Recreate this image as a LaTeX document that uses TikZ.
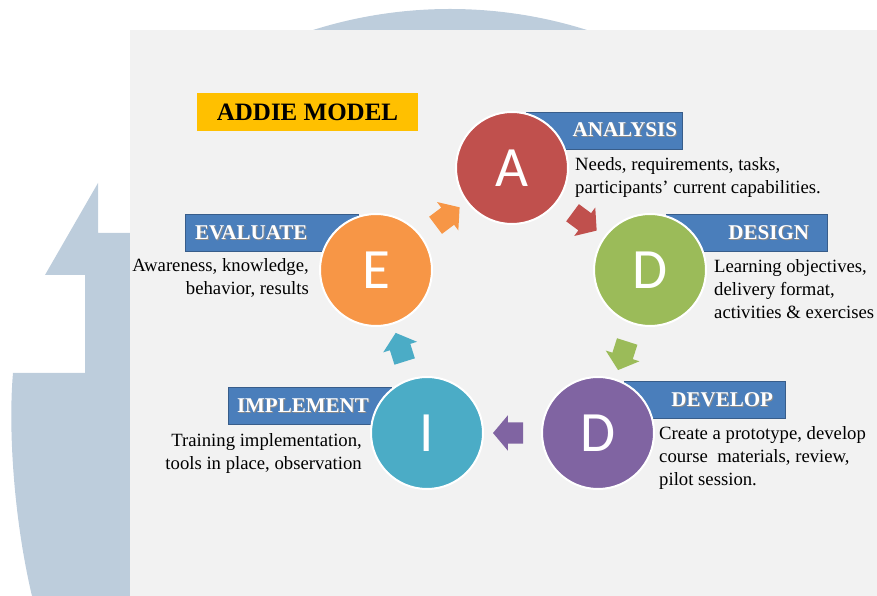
\documentclass[tikz,border=0pt]{standalone}
\usepackage{fontspec}
\setmainfont{Liberation Serif}
\newfontfamily\letterfont{Carlito}
\usepackage{xcolor}
\usetikzlibrary{shapes.arrows}

\definecolor{cred}{HTML}{C0504D}
\definecolor{cgreen}{HTML}{9BBB59}
\definecolor{cpurple}{HTML}{8064A2}
\definecolor{caqua}{HTML}{4BACC6}
\definecolor{corange}{HTML}{F79646}
\definecolor{boxblue}{HTML}{4A7EBB}
\definecolor{boxline}{HTML}{385D8A}
\definecolor{panel}{HTML}{F2F2F2}
\definecolor{seal}{HTML}{BDCDDC}
\definecolor{gold}{HTML}{FFC000}

% white heading text with a soft drop shadow
\newcommand\shadowed[1]{\rlap{\kern1pt\raisebox{-1pt}{\color{black!45}#1}}#1}

\begin{document}
\begin{tikzpicture}[x=1pt, y=1pt,
  phase/.style={circle, minimum size=112pt, draw=white, line width=2pt, text=white,
    font=\letterfont\fontsize{57}{60}\selectfont},
  tag/.style={draw=boxline, line width=0.8pt, fill=boxblue, minimum height=37pt, inner ysep=0pt,
    text=white, font=\fontsize{21}{25}\selectfont\bfseries},
  note/.style={inner sep=0pt, font=\fontsize{18.7}{23}\selectfont},
  flow/.style={single arrow, draw=none, minimum height=30pt, inner xsep=0pt, inner ysep=10.5pt,
    single arrow head extend=7pt, single arrow tip angle=100, sloped, allow upside down}]
  \useasboundingbox (0,0) rectangle (877,596);

  % Watermark behind the slide
  \begin{scope}
    \clip (130,566) rectangle (877,596);
    \fill[seal] (450,133) circle (454);
  \end{scope}
  \fill[seal] (98,413) -- (98,363) -- (140,363) -- (140,0) -- (32,0)
    .. controls (14,76) and (8,166) .. (13,223) -- (85,223) -- (85,321) -- (45,321) -- cycle;

  % Slide
  \fill[panel] (130,0) rectangle (877,566);

  % Title
  \node[fill=gold, minimum width=221pt, minimum height=38pt, font=\fontsize{25}{30}\selectfont\bfseries]
    (title) at (307.5,484) {ADDIE MODEL};

  % Phase headings (under the circles)
  \node[tag, minimum width=156pt, text width=146pt, inner xsep=5pt, align=right] (ana-tag) at (604,465.5) {\shadowed{ANALYSIS}};
  \node[tag, minimum width=161pt, text width=125pt, inner xsep=18pt, align=right] (des-tag) at (746.5,363) {\shadowed{DESIGN}};
  \node[tag, minimum width=161pt, text width=137pt, inner xsep=12pt, align=right] (dev-tag) at (704.5,196) {\shadowed{DEVELOP}};
  \node[tag, minimum width=173pt, text width=153pt, inner xsep=10pt, align=left] (eva-tag) at (271.5,363) {\shadowed{EVALUATE}};
  \node[tag, minimum width=163pt, text width=145pt, inner xsep=9pt, align=left] (imp-tag) at (309.5,190) {\shadowed{IMPLEMENT}};

  % Phase circles
  \node[phase, fill=cred] (ana) at (512,428) {A};
  \node[phase, fill=cgreen] (des) at (650,326) {D};
  \node[phase, fill=cpurple] (dev) at (598,163) {D};
  \node[phase, fill=caqua] (imp) at (427,163) {I};
  \node[phase, fill=corange] (eva) at (376,326) {E};

  % Block arrows round the cycle
  \path (ana) -- node[flow, fill=cred] (ana-des) {} (des);
  \path (des) -- node[flow, fill=cgreen] (des-dev) {} (dev);
  \path (dev) -- node[flow, fill=cpurple] (dev-imp) {} (imp);
  \path (imp) -- node[flow, fill=caqua] (imp-eva) {} (eva);
  \path (eva) -- node[flow, fill=corange] (eva-ana) {} (ana);

  % Descriptions
  \node[note, anchor=north west, align=left] (ana-txt) at (575,439)
    {Needs, requirements, tasks,\\participants’ current capabilities.};
  \node[note, anchor=north west, align=left] (des-txt) at (714,337)
    {Learning objectives,\\delivery format,\\activities \& exercises};
  \node[note, anchor=north west, align=left] (dev-txt) at (659,170)
    {Create a prototype, develop\\course\ \ materials, review,\\pilot session.};
  \node[note, anchor=north east, align=right] (imp-txt) at (362,163)
    {Training implementation,\\tools in place, observation};
  \node[note, anchor=north east, align=right] (eva-txt) at (309,338)
    {Awareness, knowledge,\\behavior, results};
\end{tikzpicture}
\end{document}
